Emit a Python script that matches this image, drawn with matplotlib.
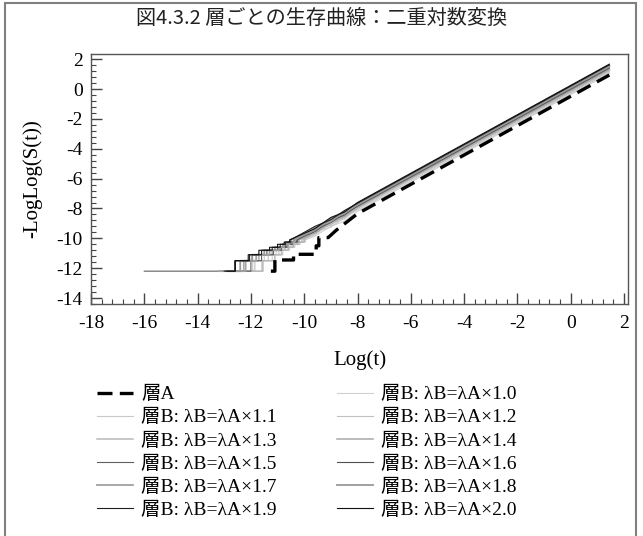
from __future__ import annotations

import matplotlib
import numpy as np

matplotlib.use("Agg")

from matplotlib import pyplot as plt
from matplotlib.patches import Rectangle
from matplotlib.ticker import AutoMinorLocator, MultipleLocator


SERIF = ["Liberation Serif", "Noto Sans CJK JP"]
CJK = ["Noto Sans CJK JP", "DejaVu Sans"]

TITLE = "図4.3.2 層ごとの生存曲線：二重対数変換"

# -log(-log S) levels of the first few events, shared by every stratum
STEP_LEVELS = [-12.2, -11.5, -11.1, -10.8, -10.6, -10.4, -10.25, -10.1]

# layer A (reference stratum)
A_X = [-11.25, -11.1, -11.1, -10.4, -10.4, -9.55, -9.55, -9.45, -9.45, -9.1, -8.8, -8.0, 1.45]
A_Y = [-12.2, -12.2, -11.45, -11.45, -11.07, -11.07, -10.5, -10.5, -9.95, -9.95, -9.46, -8.35, 0.94]

# layer B, hazard ratio vs A
B_RATIOS = ["1.0", "1.1", "1.2", "1.3", "1.4", "1.5", "1.6", "1.7", "1.8", "1.9", "2.0"]
B_START = [-12.8, -13.0, -12.9, -13.1, -12.7, -16.0, -12.9, -13.2, -12.8, -13.0, -12.9]
B_RISES = [
    [-11.6, -11.2, -10.8, -10.55, -10.35, -10.15, -9.95],
    [-11.93, -11.5, -11.05, -10.75, -10.5, -10.3, -10.1],
    [-11.85, -11.35, -10.95, -10.7, -10.45, -10.25, -10.05],
    [-11.55, -11.1, -10.85, -10.6, -10.4, -10.2, -10.0],
    [-12.27, -11.7, -11.2, -10.9, -10.6, -10.4, -10.2],
    [-12.0, -11.6, -11.15, -10.85, -10.65, -10.45, -10.25],
    [-12.6, -11.95, -11.4, -11.0, -10.7, -10.5, -10.3],
    [-12.2, -11.8, -11.3, -10.95, -10.75, -10.55, -10.35],
    [-12.4, -11.95, -11.5, -11.1, -10.8, -10.6, -10.4],
    [-12.58, -12.05, -11.6, -11.2, -10.9, -10.7, -10.5],
    [-12.6, -12.1, -11.7, -11.3, -11.0, -10.75, -10.55],
]
B_TAIL_X = [-9.6, -9.0, -8.5, -8.0, 1.45]
B_TAIL_Y = [
    [-9.85, -9.2, -8.85, -8.2, 1.05],
    [-9.55, -9.25, -8.6, -8.1, 1.12],
    [-9.75, -9.0, -8.7, -8.0, 1.20],
    [-9.45, -9.1, -8.45, -7.95, 1.27],
    [-9.65, -8.9, -8.55, -7.9, 1.33],
    [-9.4, -8.95, -8.35, -7.85, 1.40],
    [-9.55, -8.8, -8.45, -7.8, 1.46],
    [-9.3, -8.85, -8.25, -7.75, 1.52],
    [-9.45, -8.7, -8.35, -7.7, 1.57],
    [-9.2, -8.75, -8.15, -7.65, 1.62],
    [-9.35, -8.6, -8.25, -7.6, 1.67],
]
B_COLORS = ["#d0d0d0", "#c8c8c8", "#c0c0c0", "#b8b8b8", "#a8a8a8", "#606060",
            "#505050", "#a0a0a0", "#989898", "#202020", "#101010"]
B_WIDTHS = [0.8, 0.8, 0.8, 1.1, 1.1, 0.8, 0.8, 1.3, 1.3, 0.8, 0.8]


def step_path(start: float, rises: list[float], tail_x: list[float], tail_y: list[float]):
    xs = [start]
    ys = [STEP_LEVELS[0]]
    for i, x in enumerate(rises):
        xs += [x, x]
        ys += [STEP_LEVELS[i], STEP_LEVELS[i + 1]]
    return np.array(xs + tail_x), np.array(ys + tail_y)


def main() -> None:
    plt.rcParams["axes.unicode_minus"] = False
    fig = plt.figure(figsize=(6.43, 5.36), dpi=100)

    # outer frame
    fig.patches.append(Rectangle((5 / 643, -0.05), 631 / 643, 1.05 - 3 / 536, transform=fig.transFigure,
                                 fill=False, edgecolor="#808080", linewidth=1.5))

    fig.text(0.5, 0.965, TITLE, ha="center", va="center", fontsize=14.5, family=CJK, color="#222222")

    ax = fig.add_axes([91 / 643, 1 - 304 / 536, 537 / 643, 250 / 536])

    handles = {}
    for i, ratio in enumerate(B_RATIOS):
        x, y = step_path(B_START[i], B_RISES[i], B_TAIL_X, B_TAIL_Y[i])
        (line,) = ax.plot(x, y, color=B_COLORS[i], linewidth=B_WIDTHS[i])
        handles[ratio] = line
    (a_line,) = ax.plot(A_X, A_Y, color="black", linewidth=2.4, dashes=(4.5, 2.2), solid_capstyle="butt")

    ax.set_xlim(-18.0, 2.15)
    ax.set_ylim(-14.4, 2.35)
    ax.xaxis.set_major_locator(MultipleLocator(2))
    ax.yaxis.set_major_locator(MultipleLocator(2))
    ax.xaxis.set_minor_locator(AutoMinorLocator(5))
    ax.yaxis.set_minor_locator(AutoMinorLocator(5))
    ax.tick_params(which="both", direction="in", top=False, right=False, color="#444444")
    ax.tick_params(which="major", length=8, width=1.0, labelsize=14, pad=6)
    ax.tick_params(axis="x", which="major", pad=8)
    ax.tick_params(which="minor", length=3.5, width=0.8)
    for label in ax.get_xticklabels() + ax.get_yticklabels():
        label.set_family(SERIF)
    for spine in ax.spines.values():
        spine.set_color("#555555")
        spine.set_linewidth(1.0)

    ax.set_xlabel("Log(t)", fontsize=15, family=SERIF, labelpad=13)
    ax.set_ylabel("-LogLog(S(t))", fontsize=15, family=SERIF, labelpad=10)

    # legend reads row by row: A, B x1.0 / B x1.1, B x1.2 / ...
    entries = [(a_line, "層A")] + [(handles[r], f"層B: λB=λA×{r}") for r in B_RATIOS]
    ordered = entries[0::2] + entries[1::2]
    fig.legend([h for h, _ in ordered], [t for _, t in ordered], ncol=2, loc="upper left",
               bbox_to_anchor=(89 / 643, 1 - 378 / 536), frameon=False,
               prop={"family": SERIF, "size": 14}, handlelength=1.85, handletextpad=0.42,
               columnspacing=3.1, labelspacing=0.28, borderaxespad=0.0)

    fig.savefig("out.png", dpi=100)
    plt.close(fig)


if __name__ == "__main__":
    main()
